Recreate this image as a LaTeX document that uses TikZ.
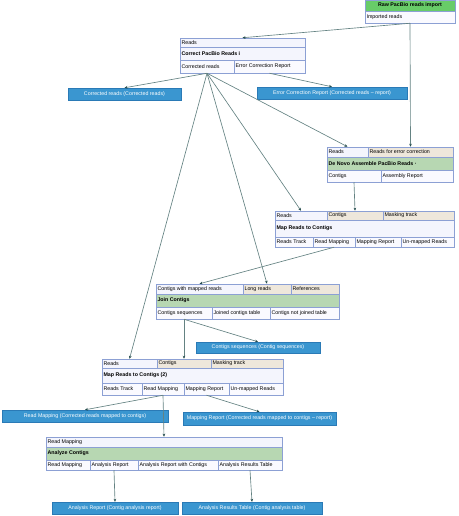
\documentclass[tikz,border=0pt]{standalone}
\usepackage{fontspec}
\setmainfont{Liberation Sans}
\usetikzlibrary{fit,arrows.meta}

\definecolor{cellline}{RGB}{140,160,212}
\definecolor{infill}{RGB}{244,245,253}
\definecolor{beige}{RGB}{238,231,219}
\definecolor{titlegreen}{RGB}{183,215,178}
\definecolor{rawgreen}{RGB}{104,204,104}
\definecolor{outfill}{RGB}{250,250,255}
\definecolor{outblue}{RGB}{58,150,208}
\definecolor{outline}{RGB}{42,122,182}
\definecolor{wire}{RGB}{100,130,130}
\definecolor{tip}{RGB}{35,75,75}

\tikzset{
  cell/.style={draw=cellline, line width=0.5pt, inner sep=0pt},
  celltext/.style={anchor=west, inner sep=1.6pt, font=\fontsize{5.3}{6}\selectfont},
  result/.style={draw=outline, fill=outblue, text=white, inner sep=0pt,
    font=\fontsize{5.3}{6}\selectfont},
  wire/.style={draw=wire, line width=0.65pt, ->},
}

% name, x1, y1, x2, y2, fill, text
\newcommand{\boxcell}[7]{%
  \node[cell, fill=#6, fit={(#2,#3) (#4,#5)}] (#1) {};
  \node[celltext] (#1-t) at (#1.west) {#7};}

\begin{document}
\begin{tikzpicture}[x=1pt, y=-1pt, >={Stealth[length=3pt,width=2.6pt,color=tip]}]
	\useasboundingbox (0,0) rectangle (458,516);

	% Raw PacBio reads import
	\node[cell, fill=rawgreen, fit={(365,0) (455,11)}] (raw-title) {};
	\node[celltext, anchor=center] (raw-title-t) at (raw-title.center) {\bfseries Raw PacBio reads import};
	\boxcell{raw-out}{365}{11}{455}{23}{outfill}{Imported reads}

	% Correct PacBio Reads
	\boxcell{cpr-in}{180}{38}{305}{47}{infill}{Reads}
	\boxcell{cpr-title}{180}{47}{305}{60}{infill}{\bfseries Correct PacBio Reads i}
	\boxcell{cpr-out1}{180}{60}{234}{73}{outfill}{Corrected reads}
	\boxcell{cpr-out2}{234}{60}{305}{73}{outfill}{Error Correction Report}

	\node[result, minimum width=113pt, minimum height=12pt] (corr-rd) at (124.5,94) {Corrected reads (Corrected reads)};
	\node[result, minimum width=150pt, minimum height=12pt] (corr-rep) at (332,93) {Error Correction Report (Corrected reads -- report)};

	% De Novo Assemble PacBio Reads
	\boxcell{dn-in1}{327}{147}{368}{157}{infill}{Reads}
	\boxcell{dn-in2}{368}{147}{453}{157}{beige}{Reads for error correction}
	\boxcell{dn-title}{327}{157}{453}{170}{titlegreen}{\bfseries De Novo Assemble PacBio Reads ·}
	\boxcell{dn-out1}{327}{170}{381}{182}{outfill}{Contigs}
	\boxcell{dn-out2}{381}{170}{453}{182}{outfill}{Assembly Report}

	% Map Reads to Contigs
	\boxcell{mr-in1}{275}{211}{327}{220}{infill}{Reads}
	\boxcell{mr-in2}{327}{211}{383}{220}{beige}{Contigs}
	\boxcell{mr-in3}{383}{211}{454}{220}{beige}{Masking track}
	\boxcell{mr-title}{275}{220}{454}{237}{infill}{\bfseries Map Reads to Contigs}
	\boxcell{mr-out1}{275}{237}{313}{247}{outfill}{Reads Track}
	\boxcell{mr-out2}{313}{237}{355}{247}{outfill}{Read Mapping}
	\boxcell{mr-out3}{355}{237}{401}{247}{outfill}{Mapping Report}
	\boxcell{mr-out4}{401}{237}{454}{247}{outfill}{Un-mapped Reads}

	% Join Contigs
	\boxcell{jc-in1}{156}{284}{243}{294}{infill}{Contigs with mapped reads}
	\boxcell{jc-in2}{243}{284}{291}{294}{beige}{Long reads}
	\boxcell{jc-in3}{291}{284}{339}{294}{beige}{References}
	\boxcell{jc-title}{156}{294}{339}{307}{titlegreen}{\bfseries Join Contigs}
	\boxcell{jc-out1}{156}{307}{212}{319}{outfill}{Contigs sequences}
	\boxcell{jc-out2}{212}{307}{270}{319}{outfill}{Joined contigs table}
	\boxcell{jc-out3}{270}{307}{339}{319}{outfill}{Contigs not joined table}

	\node[result, minimum width=124pt, minimum height=11pt] (ctg-seq) at (258,347.5) {Contigs sequences (Contig sequences)};

	% Map Reads to Contigs (2)
	\boxcell{mr2-in1}{102}{359}{157}{368}{infill}{Reads}
	\boxcell{mr2-in2}{157}{359}{211}{368}{beige}{Contigs}
	\boxcell{mr2-in3}{211}{359}{283}{368}{beige}{Masking track}
	\boxcell{mr2-title}{102}{368}{283}{383}{infill}{\bfseries Map Reads to Contigs (2)}
	\boxcell{mr2-out1}{102}{383}{142}{395}{outfill}{Reads Track}
	\boxcell{mr2-out2}{142}{383}{184}{395}{outfill}{Read Mapping}
	\boxcell{mr2-out3}{184}{383}{229}{395}{outfill}{Mapping Report}
	\boxcell{mr2-out4}{229}{383}{283}{395}{outfill}{Un-mapped Reads}

	\node[result, minimum width=166pt, minimum height=12pt] (rd-map) at (85,416) {Read Mapping (Corrected reads mapped to contigs)};
	\node[result, minimum width=153pt, minimum height=13pt] (map-rep) at (259.5,418.5) {Mapping Report (Corrected reads mapped to contigs -- report)};

	% Analyze Contigs
	\boxcell{ac-in}{46}{437}{282}{447}{infill}{Read Mapping}
	\boxcell{ac-title}{46}{447}{282}{460}{titlegreen}{\bfseries Analyze Contigs}
	\boxcell{ac-out1}{46}{460}{90}{470}{outfill}{Read Mapping}
	\boxcell{ac-out2}{90}{460}{138}{470}{outfill}{Analysis Report}
	\boxcell{ac-out3}{138}{460}{218}{470}{outfill}{Analysis Report with Contigs}
	\boxcell{ac-out4}{218}{460}{282}{470}{outfill}{Analysis Results Table}

	\node[result, minimum width=126pt, minimum height=12pt] (an-rep) at (115,508) {Analysis Report (Contig analysis report)};
	\node[result, minimum width=140pt, minimum height=12pt] (an-tab) at (252,508) {Analysis Results Table (Contig analysis table)};

	% connectors
	\draw [wire] (raw-out.south) to (cpr-in.north);
	\draw [wire] (raw-out.south) to (dn-in2.north);
	\draw [wire] (cpr-out1.south) to (corr-rd.north);
	\draw [wire] (cpr-out2.south) to (corr-rep.north);
	\draw [wire] (cpr-out1.south) to (dn-in1.north);
	\draw [wire] (cpr-out1.south) to (mr-in1.north);
	\draw [wire] (cpr-out1.south) to (jc-in2.north);
	\draw [wire] (cpr-out1.south) to (mr2-in1.north);
	\draw [wire] (dn-out1.south) to (mr-in2.north);
	\draw [wire] (mr-out2.south) to (jc-in1.north);
	\draw [wire] (jc-out1.south) to (ctg-seq.north);
	\draw [wire] (jc-out1.south) to (mr2-in2.north);
	\draw [wire] (mr2-out2.south) to (rd-map.north);
	\draw [wire] (mr2-out2.south) to (ac-in.north);
	\draw [wire] (mr2-out3.south) to (map-rep.north);
	\draw [wire] (ac-out2.south) to (an-rep.north);
	\draw [wire] (ac-out4.south) to (an-tab.north);
\end{tikzpicture}
\end{document}
